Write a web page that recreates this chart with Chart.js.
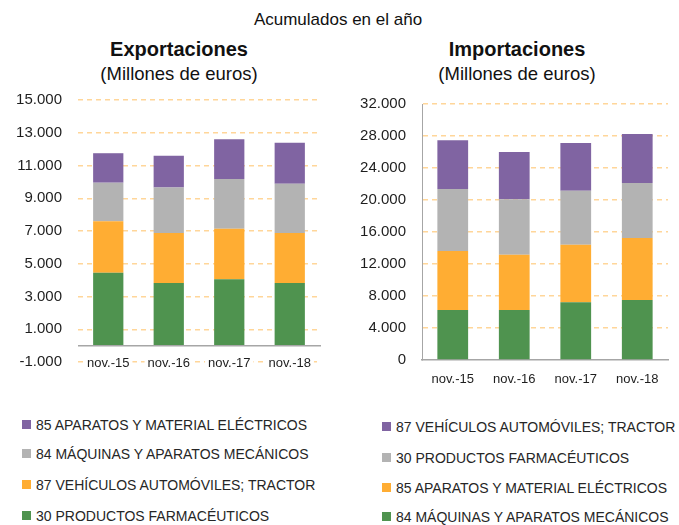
<!DOCTYPE html>
<html><head><meta charset="utf-8">
<script src="https://cdn.jsdelivr.net/npm/chart.js@4.4.0/dist/chart.umd.min.js"></script>
<style>
html,body{margin:0;padding:0;background:#fff;}
body{width:679px;height:525px;position:relative;overflow:hidden;font-family:"Liberation Sans",Arial,sans-serif;color:#111;}
.t{position:absolute;white-space:nowrap;transform:translate(-50%,-50%);line-height:1;}
canvas{position:absolute;top:0;}
.row{position:absolute;white-space:nowrap;font-size:14px;line-height:16px;height:16px;color:#262626;}
.sw{position:absolute;left:0;top:3px;width:9px;height:9px;}
.lbl{position:absolute;top:0;}
</style></head>
<body>
<div class="t" style="left:338px;top:19px;font-size:17px;">Acumulados en el año</div>
<div class="t" style="left:179px;top:49px;font-size:20px;font-weight:bold;">Exportaciones</div>
<div class="t" style="left:179px;top:74px;font-size:18.5px;">(Millones de euros)</div>
<div class="t" style="left:517px;top:49px;font-size:20px;font-weight:bold;">Importaciones</div>
<div class="t" style="left:517px;top:74px;font-size:18.5px;">(Millones de euros)</div>
<canvas id="c1" width="340" height="400" style="left:0px;"></canvas>
<canvas id="c2" width="339" height="400" style="left:340px;"></canvas>
<div id="leg1"></div><div id="leg2"></div>
<script>
// ---- data ----
const categories = ['nov.-15', 'nov.-16', 'nov.-17', 'nov.-18'];

// Exportaciones (bottom to top)
const exp30 = [4450, 3820, 4050, 3820];   // 30 PRODUCTOS FARMACÉUTICOS
const exp87 = [3150, 3060, 3080, 3060];   // 87 VEHÍCULOS AUTOMÓVILES; TRACTOR
const exp84 = [2350, 2770, 3050, 3000];   // 84 MÁQUINAS Y APARATOS MECÁNICOS
const exp85 = [1800, 1940, 2430, 2510];   // 85 APARATOS Y MATERIAL ELÉCTRICOS

// Importaciones (bottom to top)
const imp84 = [6250, 6250, 7210, 7500];   // 84 MÁQUINAS Y APARATOS MECÁNICOS
const imp85 = [7375, 6920, 7210, 7750];   // 85 APARATOS Y MATERIAL ELÉCTRICOS
const imp30 = [7750, 6910, 6750, 6875];   // 30 PRODUCTOS FARMACÉUTICOS
const imp87 = [6085, 5920, 5955, 6125];   // 87 VEHÍCULOS AUTOMÓVILES; TRACTOR

const expTicks = [-1000, 1000, 3000, 5000, 7000, 9000, 11000, 13000, 15000];
const impTicks = [0, 4000, 8000, 12000, 16000, 20000, 24000, 28000, 32000];

const L30 = '30 PRODUCTOS FARMACÉUTICOS';
const L84 = '84 MÁQUINAS Y APARATOS MECÁNICOS';
const L85 = '85 APARATOS Y MATERIAL ELÉCTRICOS';
const L87 = '87 VEHÍCULOS AUTOMÓVILES; TRACTOR';

const GREEN = '#4F934F', ORANGE = '#FFAD33', GRAY = '#B3B3B3', PURPLE = '#8064A2';
const GRID = '#FFD699', AXIS = '#A6A6A6', TXT = '#1e1e1e';

function fmt(v) {
  const s = Math.abs(v).toString().replace(/\B(?=(\d{3})+(?!\d))/g, '.');
  return (v < 0 ? '-' : '') + s;
}

const zeroLine = {
  id: 'zeroLine',
  afterDatasetsDraw(chart, args, opts) {
    if (!opts.enabled) return;
    const y = chart.scales.y.getPixelForValue(0);
    const a = chart.chartArea, ctx = chart.ctx;
    ctx.save();
    ctx.strokeStyle = AXIS; ctx.lineWidth = 1.5;
    ctx.beginPath(); ctx.moveTo(a.left, y); ctx.lineTo(a.right + 1, y); ctx.stroke();
    ctx.restore();
  }
};

function makeChart(id, sets, ticks, cfg) {
  return new Chart(document.getElementById(id), {
    type: 'bar',
    data: {
      labels: categories,
      datasets: sets.map(s => ({ label: s[0], data: s[1], backgroundColor: s[2], borderWidth: 0,
        categoryPercentage: 1.0, barPercentage: 0.5 }))
    },
    options: {
      responsive: false, animation: false,
      layout: { padding: { top: cfg.top, left: 0, right: cfg.right, bottom: 0 } },
      plugins: { legend: { display: false }, tooltip: { enabled: false }, zeroLine: { enabled: cfg.zero } },
      scales: {
        x: {
          stacked: true,
          grid: { display: false, drawTicks: false },
          border: { display: cfg.axes, color: AXIS, width: 1.5 },
          ticks: { color: TXT, font: { family: 'Liberation Sans', size: 13 }, padding: cfg.xpad,
            mirror: cfg.mirror, maxRotation: 0, autoSkip: false,
            showLabelBackdrop: true, backdropColor: '#ffffff', backdropPadding: { x: 3, y: 0 } },
          afterFit: s => { s.height = cfg.xh; }
        },
        y: {
          stacked: true, min: ticks[0], max: ticks[ticks.length - 1],
          afterBuildTicks: s => { s.ticks = ticks.map(v => ({ value: v })); },
          grid: { drawTicks: false, lineWidth: 1.5,
            color: c => (cfg.axes && c.tick && c.tick.value === 0) ? 'rgba(0,0,0,0)' : GRID },
          border: { display: cfg.axes, color: AXIS, width: 1, dash: [5, 4] },
          ticks: { color: TXT, font: { family: 'Liberation Sans', size: 15 }, padding: cfg.ypad,
            callback: v => fmt(v) },
          afterFit: s => { s.width = cfg.yw; }
        }
      }
    },
    plugins: [zeroLine]
  });
}

makeChart('c1', [[L30, exp30, GREEN], [L87, exp87, ORANGE], [L84, exp84, GRAY], [L85, exp85, PURPLE]],
  expTicks, { top: 100, right: 20, xh: 38, yw: 78, xpad: -9, mirror: true, ypad: 16, axes: false, zero: true });
makeChart('c2', [[L84, imp84, GREEN], [L85, imp85, ORANGE], [L30, imp30, GRAY], [L87, imp87, PURPLE]],
  impTicks, { top: 104, right: 11, xh: 40, yw: 82, xpad: 12, mirror: false, ypad: 16, axes: true, zero: false });

function legend(elId, items, x, ys) {
  const el = document.getElementById(elId);
  items.forEach((it, i) => {
    const r = document.createElement('div');
    r.className = 'row';
    r.style.left = x + 'px';
    r.style.top = (ys[i] - 8) + 'px';
    const sw = document.createElement('span'); sw.className = 'sw'; sw.style.background = it[1];
    const tx = document.createElement('span'); tx.className = 'lbl'; tx.style.left = '14px'; tx.textContent = it[0];
    r.appendChild(sw); r.appendChild(tx);
    el.appendChild(r);
  });
}
legend('leg1', [[L85, PURPLE], [L84, GRAY], [L87, ORANGE], [L30, GREEN]], 22, [425, 454, 485, 516]);
legend('leg2', [[L87, PURPLE], [L30, GRAY], [L85, ORANGE], [L84, GREEN]], 382, [427, 458, 488, 517]);
</script>
</body></html>
